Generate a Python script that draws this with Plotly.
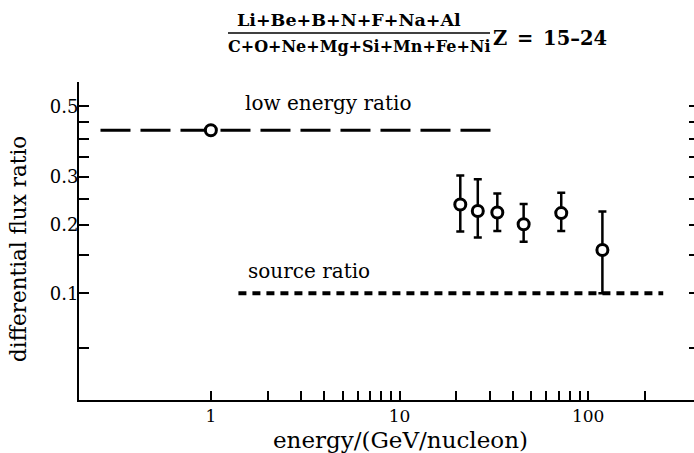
import numpy as np
import plotly.graph_objects as go

# Measured secondary-to-primary ratio, Z = 15-24
energy = [21, 26, 33, 45.5, 72, 119]            # GeV/nucleon
ratio = [0.239, 0.226, 0.223, 0.201, 0.222, 0.158]
ratio_hi = [0.303, 0.294, 0.262, 0.240, 0.264, 0.225]
ratio_lo = [0.188, 0.178, 0.189, 0.171, 0.189, 0.100]

# Low-energy reference point and its level
low_energy_x = [1.0]
low_energy_ratio = 0.424
low_energy_span = [0.26, 32]

# Source abundance ratio
source_ratio = 0.10
source_span = [1.4, 250]

# Axis ticks
x_ticks = [1, 2, 3, 4, 5, 6, 7, 8, 9, 10, 20, 30, 40, 50, 60, 70, 80, 90, 100, 200]
x_ticktext = ["1" if v == 1 else "10" if v == 10 else "100" if v == 100 else "" for v in x_ticks]
y_ticks = [0.05, 0.10, 0.15, 0.20, 0.25, 0.30, 0.35, 0.40, 0.45, 0.50]
y_ticktext = ["", "0.1", "", "0.2", "", "0.3", "", "", "", "0.5"]
x_range = [0.2, 364]
y_range = [0.0211, 0.585]

numerator = ["Li", "Be", "B", "N", "F", "Na", "Al"]
denominator = ["C", "O", "Ne", "Mg", "Si", "Mn", "Fe", "Ni"]
charge_range = "Z\u2002=\u200215–24"

# The vertical scale is a cube-root scale: plot cbrt(value) on a linear axis
def s(v):
    return np.cbrt(np.asarray(v, dtype=float))

FONT = "DejaVu Serif"
W, H = 694, 453
L, R, T, B = 79, 0, 82, 53

def px(x):
    return (x - L) / (W - L - R)

def py(y):
    return (H - B - y) / (H - T - B)

fig = go.Figure()

# low-energy ratio level
fig.add_trace(go.Scatter(
    x=low_energy_span, y=s([low_energy_ratio] * 2), mode="lines",
    line=dict(color="black", width=3, dash="30px,10px"),
    hoverinfo="skip", showlegend=False))

# source ratio level
fig.add_trace(go.Scatter(
    x=source_span, y=s([source_ratio] * 2), mode="lines",
    line=dict(color="black", width=4, dash="8px,6px"),
    hoverinfo="skip", showlegend=False))

# low-energy point
fig.add_trace(go.Scatter(
    x=low_energy_x, y=s([low_energy_ratio]), mode="markers",
    marker=dict(symbol="circle", size=11, color="white",
                line=dict(color="black", width=3)),
    showlegend=False))

# high-energy measurements with asymmetric errors
r = s(ratio)
fig.add_trace(go.Scatter(
    x=energy, y=r, mode="markers",
    marker=dict(symbol="circle", size=11, color="white",
                line=dict(color="black", width=3)),
    error_y=dict(type="data", symmetric=False,
                 array=s(ratio_hi) - r, arrayminus=r - s(ratio_lo),
                 color="black", thickness=2.5, width=4),
    showlegend=False))

# right-hand tick marks
fig.add_trace(go.Scatter(x=[], y=[], yaxis="y2", showlegend=False, hoverinfo="skip"))

fig.update_layout(
    width=W, height=H,
    margin=dict(l=L, r=R, t=T, b=B),
    paper_bgcolor="white", plot_bgcolor="white",
    font=dict(family=FONT, color="black", size=16),
    xaxis=dict(
        type="log", range=list(np.log10(x_range)),
        tickmode="array", tickvals=x_ticks, ticktext=x_ticktext,
        ticks="inside", ticklen=9, tickwidth=2, tickcolor="black",
        showline=True, linewidth=2, linecolor="black",
        showgrid=False, zeroline=False,
        tickfont=dict(size=17, family=FONT),
    ),
    yaxis=dict(
        range=list(s(y_range)),
        tickmode="array", tickvals=list(s(y_ticks)), ticktext=y_ticktext,
        ticks="inside", ticklen=10, tickwidth=2, tickcolor="black",
        showline=True, linewidth=2, linecolor="black",
        showgrid=False, zeroline=False,
        tickfont=dict(size=18, family=FONT),
        ticklabelstandoff=-5,
    ),
    yaxis2=dict(
        overlaying="y", side="right",
        range=list(s(y_range)),
        tickmode="array", tickvals=list(s(y_ticks)),
        showticklabels=False,
        ticks="inside", ticklen=5, tickwidth=2, tickcolor="black",
        showline=False, showgrid=False, zeroline=False,
    ),
)

# axis titles
fig.add_annotation(xref="paper", yref="paper", x=px(400), y=py(440),
                   xanchor="center", yanchor="middle", showarrow=False,
                   text="energy/(GeV/nucleon)", font=dict(size=23, family=FONT))
fig.add_annotation(xref="paper", yref="paper", x=px(18), y=py(249),
                   xanchor="center", yanchor="middle", showarrow=False, textangle=-90,
                   text="differential flux ratio", font=dict(size=21.5, family=FONT))

# line labels
fig.add_annotation(x=np.log10(4.2), y=float(s(0.51)), text="low energy ratio",
                   showarrow=False, font=dict(size=20, family=FONT))
fig.add_annotation(x=np.log10(3.3), y=float(s(0.1276)), text="source ratio",
                   showarrow=False, font=dict(size=20, family=FONT))

# title: element-group fraction and charge range
fig.add_annotation(xref="paper", yref="paper", x=px(349), y=py(20),
                   xanchor="center", yanchor="middle",
                   text="<b>" + "+".join(numerator) + "</b>",
                   showarrow=False, font=dict(size=17.5, family=FONT))
fig.add_annotation(xref="paper", yref="paper", x=px(359), y=py(46),
                   xanchor="center", yanchor="middle",
                   text="<b>" + "+".join(denominator) + "</b>",
                   showarrow=False, font=dict(size=16, family=FONT))
fig.add_shape(type="line", xref="paper", yref="paper",
              x0=px(228), x1=px(490), y0=py(33), y1=py(33),
              line=dict(color="black", width=1.5))
fig.add_annotation(xref="paper", yref="paper", x=px(491), y=py(39),
                   xanchor="left", yanchor="middle",
                   text="<b>" + charge_range + "</b>", showarrow=False,
                   font=dict(size=19.5, family=FONT))

fig.write_html("out.html")
